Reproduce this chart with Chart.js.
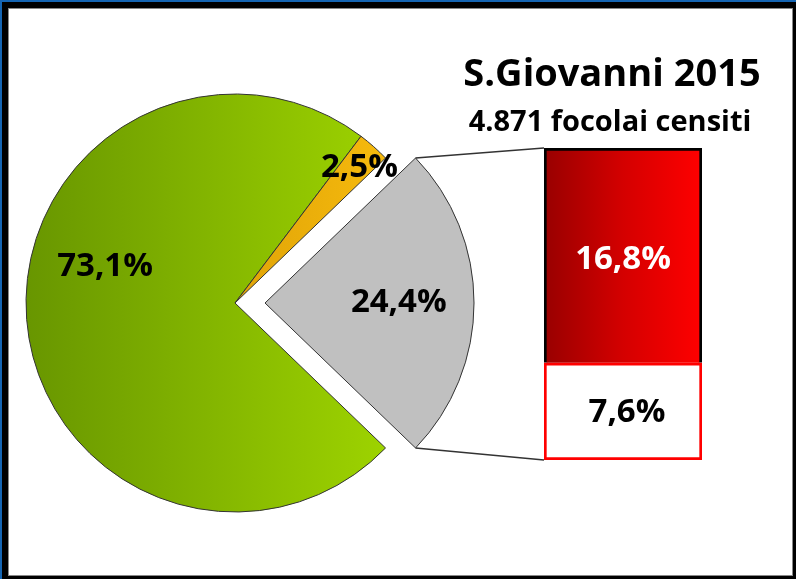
<!DOCTYPE html>
<html>
<head>
<meta charset="utf-8">
<script src="https://cdn.jsdelivr.net/npm/chart.js@4"></script>
<style>
  html, body { margin: 0; padding: 0; background: #fff; }
  #frame { position: relative; width: 796px; height: 579px; background: #1565b3; overflow: hidden; }
  #edge { position: absolute; left: 2px; top: 2px; right: 0; bottom: 0; background: #000; }
  #paper { position: absolute; left: 8px; top: 8px; right: 3px; bottom: 3px; background: #fff;
           border: 1px solid #888; }
  canvas { position: absolute; left: 0; top: 0; }
</style>
</head>
<body>
<div id="frame">
  <div id="edge"></div>
  <div id="paper"></div>
  <canvas id="pieChart" width="796" height="579"></canvas>
  <canvas id="barChart" width="796" height="579"></canvas>
</div>
<script>
var pieLabels = ['Categoria 1', 'Categoria 2', 'Categoria 3'];
var pieValues = [73.1, 2.5, 24.4];
var barLabels = ['Categoria 3a', 'Categoria 3b'];
var barValues = [16.8, 7.6];
var titleText = 'S.Giovanni 2015';
var subtitleText = '4.871 focolai censiti';

var FONT = '"Open Sans", "DejaVu Sans", sans-serif';
var R = 209;          // pie radius
var EXPLODE = 30;     // how far the detail slice is pulled out
var detailIndex = 2;  // slice that is broken down in the bar

var pieTotal = pieValues.reduce(function (a, b) { return a + b; }, 0);
// detail slice centred on the right side, facing the bar
var pieRotation = 90 + pieValues[detailIndex] / pieTotal * 180;

function pct(v) { return v.toFixed(1).replace('.', ',') + '%'; }

function sliceFill(c) {
  var chart = c.chart, area = chart.chartArea;
  if (!area) return '#c0c0c0';
  var cx = (area.left + area.right) / 2;
  var g = chart.ctx.createLinearGradient(cx - R, 0, cx + R, 0);
  if (c.dataIndex === 0) {
    g.addColorStop(0, '#689600');
    g.addColorStop(1, '#a6dd00');
    return g;
  }
  if (c.dataIndex === 1) {
    g.addColorStop(0, '#c08400');
    g.addColorStop(1, '#ffc30f');
    return g;
  }
  return '#c0c0c0';
}

function redFill(c) {
  var chart = c.chart, area = chart.chartArea;
  if (!area) return '#e00000';
  var g = chart.ctx.createLinearGradient(area.left, 0, area.right, 0);
  g.addColorStop(0, '#980000');
  g.addColorStop(0.5, '#d40000');
  g.addColorStop(1, '#ff0000');
  return g;
}

// label placement per slice: [angle shift in degrees, fraction of radius]
var labelPlace = [[20, 0.645], [1, 0.88], [0, 0.64]];

var pieText = {
  id: 'pieText',
  afterDatasetsDraw: function (chart) {
    var ctx = chart.ctx;
    var arcs = chart.getDatasetMeta(0).data;
    ctx.save();
    ctx.textAlign = 'center';
    ctx.textBaseline = 'middle';
    ctx.fillStyle = '#000';
    ctx.font = 'bold 33px ' + FONT;
    arcs.forEach(function (arc, i) {
      var p = arc.getProps(['x', 'y', 'startAngle', 'endAngle', 'outerRadius']);
      var mid = (p.startAngle + p.endAngle) / 2;
      var cx = p.x, cy = p.y;
      if (i === detailIndex) {
        cx += Math.cos(mid) * EXPLODE;
        cy += Math.sin(mid) * EXPLODE;
      }
      var a = mid + labelPlace[i][0] * Math.PI / 180;
      var r = p.outerRadius * labelPlace[i][1];
      ctx.fillText(pct(pieValues[i]), cx + Math.cos(a) * r, cy + Math.sin(a) * r);
    });
    ctx.font = 'bold 38px ' + FONT;
    ctx.fillText(titleText, 612, 75);
    ctx.font = 'bold 29px ' + FONT;
    ctx.fillText(subtitleText, 610, 123);
    ctx.restore();
  }
};

var pieChart = new Chart(document.getElementById('pieChart'), {
  type: 'pie',
  data: {
    labels: pieLabels,
    datasets: [{
      data: pieValues,
      backgroundColor: sliceFill,
      borderColor: '#333',
      borderWidth: 1,
      offset: [0, 0, EXPLODE * 4],
      clip: false
    }]
  },
  options: {
    responsive: false,
    animation: false,
    events: [],
    rotation: pieRotation,
    radius: R,
    layout: { padding: { left: 0, right: 326, top: 27, bottom: 0 } },
    plugins: { legend: { display: false }, tooltip: { enabled: false } }
  },
  plugins: [pieText]
});

var barExtras = {
  id: 'barExtras',
  afterDatasetsDraw: function (chart) {
    var ctx = chart.ctx;
    var lower = chart.getDatasetMeta(0).data[0];
    var upper = chart.getDatasetMeta(1).data[0];
    var left = upper.x - upper.width / 2;

    // connector lines from the pulled-out slice to the bar
    var arc = pieChart.getDatasetMeta(0).data[detailIndex];
    var p = arc.getProps(['x', 'y', 'startAngle', 'endAngle', 'outerRadius']);
    var mid = (p.startAngle + p.endAngle) / 2;
    var vx = p.x + Math.cos(mid) * EXPLODE, vy = p.y + Math.sin(mid) * EXPLODE;
    ctx.save();
    ctx.strokeStyle = '#333';
    ctx.lineWidth = 1.5;
    ctx.beginPath();
    ctx.moveTo(vx + Math.cos(p.startAngle) * p.outerRadius, vy + Math.sin(p.startAngle) * p.outerRadius);
    ctx.lineTo(left, upper.y);
    ctx.moveTo(vx + Math.cos(p.endAngle) * p.outerRadius, vy + Math.sin(p.endAngle) * p.outerRadius);
    ctx.lineTo(left, lower.base);
    ctx.stroke();

    ctx.textAlign = 'center';
    ctx.textBaseline = 'middle';
    ctx.font = 'bold 33px ' + FONT;
    var cu = upper.getCenterPoint();
    ctx.fillStyle = '#fff';
    ctx.fillText(pct(barValues[0]), cu.x, cu.y + 4);
    var cl = lower.getCenterPoint();
    ctx.fillStyle = '#000';
    ctx.fillText(pct(barValues[1]), cl.x + 4, cl.y + 1);
    ctx.restore();
  }
};

var barChart = new Chart(document.getElementById('barChart'), {
  type: 'bar',
  data: {
    labels: [titleText],
    datasets: [
      { label: barLabels[1], data: [barValues[1]], backgroundColor: '#fff',
        borderColor: '#ff0000', borderWidth: 3, borderSkipped: false },
      { label: barLabels[0], data: [barValues[0]], backgroundColor: redFill,
        borderColor: '#000', borderWidth: 3, borderSkipped: 'bottom' }
    ]
  },
  options: {
    responsive: false,
    animation: false,
    events: [],
    layout: { padding: { left: 544, right: 94, top: 148, bottom: 119 } },
    datasets: { bar: { categoryPercentage: 1, barPercentage: 1 } },
    scales: {
      x: { display: false, stacked: true },
      y: { display: false, stacked: true, min: 0, max: pieValues[detailIndex] }
    },
    plugins: { legend: { display: false }, tooltip: { enabled: false } }
  },
  plugins: [barExtras]
});
</script>
</body>
</html>
